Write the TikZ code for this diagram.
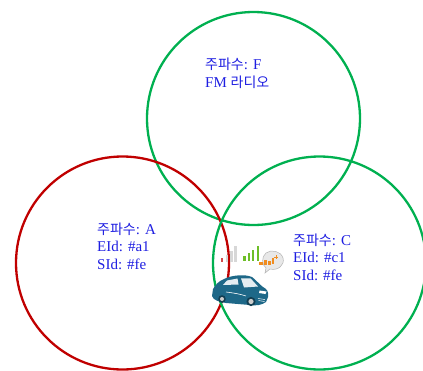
\documentclass[tikz,border=0pt]{standalone}
\usepackage{fontspec}
\setmainfont{Liberation Serif}
\newfontfamily\krfont{Noto Sans CJK KR}
\newcommand\krtxt[1]{{\krfont\fontsize{14}{18}\selectfont #1}}
\definecolor{cellred}{RGB}{192,0,0}
\definecolor{cellgreen}{RGB}{0,176,80}
\definecolor{labelblue}{RGB}{30,30,225}
\definecolor{carteal}{RGB}{30,104,136}
\definecolor{cardark}{RGB}{18,62,82}
\definecolor{barlight}{RGB}{215,215,215}
\definecolor{bargreen}{RGB}{110,190,40}
\definecolor{bubble}{RGB}{232,232,232}
\definecolor{sigorange}{RGB}{240,140,30}
\begin{document}
\begin{tikzpicture}[x=1pt,y=-1pt,
  zone/.style={circle,line width=2.3pt,minimum size=213pt,inner sep=0pt,outer sep=0pt},
  lbl/.style={anchor=base west,inner sep=0pt,text=labelblue,font=\fontsize{15}{18}\selectfont}]
\useasboundingbox (0,0) rectangle (423,370);

% coverage areas
\node[zone,draw=cellgreen] (cellF) at (253.5,118.5) {};
\node[zone,draw=cellred]   (cellA) at (122.5,263) {};
\node[zone,draw=cellgreen] (cellC) at (319.5,263) {};

% labels
\node[lbl] (fF1) at (205,69.5) {\krtxt{주파수}: F};
\node[lbl] (fF2) at (205,87.5) {FM \krtxt{라디오}};
\node[lbl] (fA1) at (97,234) {\krtxt{주파수}: A};
\node[lbl] (fA2) at (97,251.5) {EId: \#a1};
\node[lbl] (fA3) at (97,269.5) {SId: \#fe};
\node[lbl] (fC1) at (293,245) {\krtxt{주파수}: C};
\node[lbl] (fC2) at (293,262.5) {EId: \#c1};
\node[lbl] (fC3) at (293,280) {SId: \#fe};

% signal strength: weak
\fill[red!75!black!70] (221,258) rectangle (223.3,262);
\fill[barlight] (225.7,254.7) rectangle (228.3,262);
\fill[barlight] (230,250.7) rectangle (232.5,262);
\fill[barlight] (234.3,246.3) rectangle (237,262);
% signal strength: strong
\fill[bargreen] (243.3,256.3) rectangle (245.7,261);
\fill[bargreen] (247.7,253) rectangle (250,261);
\fill[bargreen] (252,249.7) rectangle (254.4,261);
\fill[bargreen] (256.6,246.3) rectangle (259,261);
% speech bubble
\draw[fill=bubble,draw=gray!60,line width=0.5pt]
  (266,268) .. controls (262,265) and (261,257) .. (266,253)
  .. controls (271,249) and (281,251) .. (283,258)
  .. controls (285,265) and (278,271) .. (270,269)
  -- (265,273) -- cycle;
\fill[sigorange] (259,262) rectangle (263,265);
\fill[sigorange] (263.5,260) rectangle (267,265);
\fill[sigorange] (267.5,261) rectangle (271,265);
\fill[sigorange] (271.5,258) rectangle (274,264);
\draw[sigorange,line width=0.8pt] (274,257) -- (278,257) (276,255) -- (276,259);

% car
\fill[carteal] (212,296) -- (213,289)
  .. controls (216,284) and (219,281) .. (224,279)
  .. controls (232,275) and (245,274) .. (252,277)
  .. controls (256,280) and (259,284) .. (263,287)
  .. controls (267,289) and (269,292) .. (268,297)
  -- (266,302)
  .. controls (262,305) and (256,306) .. (250,305)
  -- (226,303)
  .. controls (219,302) and (213,300) .. (212,296) -- cycle;
\fill[white!88!carteal] (223,285) -- (227,280.5) -- (237.5,278.5) -- (238.5,284.5) -- cycle;
\fill[white!88!carteal] (241,278.3) -- (250.5,278.3) -- (258,286.5) -- (244,287.5) -- cycle;
\draw[white,line width=0.6pt] (226,292) .. controls (234,293) and (240,294) .. (246,296);
\fill[white] (259.5,290.5) -- (266.5,291.5) -- (265.5,294) -- (259,293) -- cycle;
\draw[white,line width=0.5pt] (258,298.5) -- (265,299.5) (258.5,300.5) -- (264.5,301.5);
\fill[cardark] (251,301.5) circle[radius=4.6pt];
\fill[gray!40] (251,301.5) circle[radius=2.6pt];
\fill[cardark] (222,299) circle[radius=3.8pt];
\fill[gray!40] (222,299) circle[radius=2pt];
\end{tikzpicture}
\end{document}
